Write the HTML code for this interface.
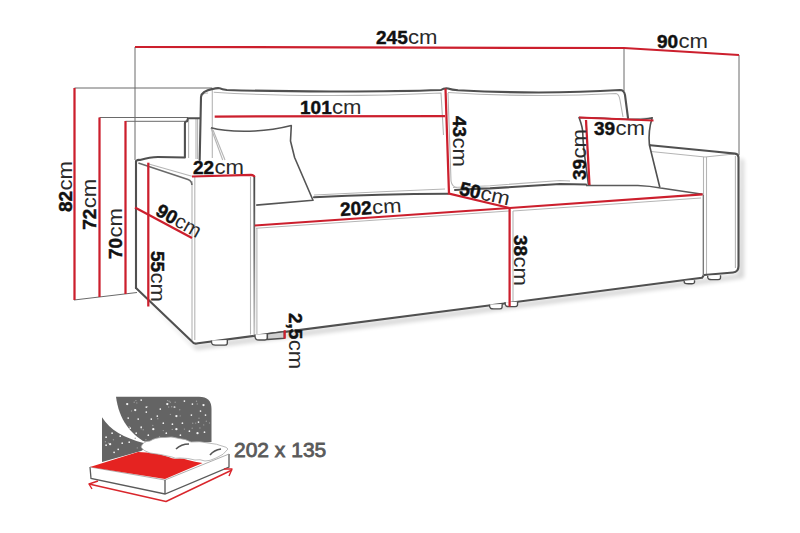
<!DOCTYPE html>
<html><head><meta charset="utf-8">
<style>
html,body{margin:0;padding:0;background:#fff;}
body{width:800px;height:533px;overflow:hidden;position:relative;}
svg{position:absolute;left:0;top:0;}
text{font-family:"Liberation Sans",sans-serif;fill:#111;}
.b{font-weight:bold;font-size:19px;stroke:#111;stroke-width:0.45px;}
.c{font-size:20px;fill:#2a2a2a;}
.r{stroke:#cc1f2d;stroke-width:2.25;fill:none;stroke-linecap:butt;}
.g{stroke:#6a6a6a;stroke-width:1;fill:none;}
.o{stroke:#505050;stroke-width:2.1;fill:none;stroke-linejoin:round;stroke-linecap:round;}
.l{stroke:#b5b5b5;stroke-width:1.1;fill:none;}
</style></head>
<body>
<svg width="800" height="533" viewBox="0 0 800 533">
<defs>
<linearGradient id="fd" gradientUnits="userSpaceOnUse" x1="0" y1="175" x2="0" y2="335"><stop offset="0" stop-color="#444"/><stop offset="0.5" stop-color="#777"/><stop offset="1" stop-color="#c8c8c8"/></linearGradient>
<filter id="sh" x="-20%" y="-50%" width="140%" height="200%"><feGaussianBlur stdDeviation="2.2"/></filter>
</defs>
<!-- shadows -->
<g filter="url(#sh)" fill="#000" opacity="0.16">
<path d="M136,289 L194,345 L702,279 L738,274 L740,158 L744,160 L744,278 L702,284 L196,350 Z"/>
</g>
<rect x="0" y="0" width="0" height="0"/>
<!-- white sofa body to cover shadow interior -->
<path d="M136,160 V288 L194,343.6 L702,277.8 L733,272.5 Q739,272.5 739,266 V158 L651,146 L628,118 L624,90 L444,88 L213,88 L201,93 L200,118 L136,118 Z" fill="#fff"/>

<!-- extension lines -->
<g class="g">
<path d="M135,47 V160"/>
<path d="M74.5,88 H212"/>
<path d="M99.5,117.5 H188"/>
<path d="M125.5,121.3 H185"/>
<path d="M624,48 V91"/>
<path d="M739,55 V155"/>
<path d="M74,300 L137,292.5"/>
</g>

<!-- sofa light inner lines -->
<g class="l">
<path d="M192,181 V340"/>
<path d="M194.8,177 V340"/>
<path d="M250.5,177 V334.5"/>
<path d="M256.9,228 V334"/>
<path d="M188.6,120 V158"/>
<path d="M196,118 V159"/>
<path d="M197.6,118 V159"/>
<path d="M212.3,88.5 V158"/>
<path d="M202.5,94.5 Q204,93 208,93"/>
<path d="M213.7,92.2 C280,96.5 370,96.5 441,93 L443.5,135"/>
<path d="M448,92.5 C520,97 580,95.5 616,93.5 Q619,94 620,100 L623,117"/>
<path d="M448,93 L451,181 Q452,187 457,187.5"/>
<path d="M211,128 L222.7,160"/>
<path d="M213,130 L225,160"/>
<path d="M148.8,164 L191.9,176.3"/>
<path d="M314,195 Q380,191.6 445,189"/>
<path d="M256,228.3 L509,211"/>
<path d="M513,211 L701,198"/>
<path d="M513,211 V302"/>
<path d="M453,187.5 L490,185.7 L560,180.5 L570,181"/>
<path d="M651,151.5 L705,157 L734,154"/>
<path d="M703.5,157 V276"/>
<path d="M706.5,157 V275"/>
<path d="M735.4,156 V268"/>
<path d="M628,119 L650,118"/>
</g>

<!-- sofa dark outlines -->
<g class="o">
<path d="M136,288 V161 Q138,159.5 140,160 Q150,157 158,157 Q172,157 184.9,157.5 V123.5 Q185,121.3 187,121.3 L188,118.3 H200"/>
<path d="M136,288 L192,341.5 Q194,344.5 198,343.2 L702,277.8 L704,275 L733,272.5 Q738.5,272 738.5,266 V157.5 Q738.5,154 735,153.6 L714.3,151.5 L650.3,145.3"/>
<path d="M199.7,160 L201,97 Q201.5,91 212.8,88.9 Q216,88 219.4,88.2 Q222,89.6 226.9,90 C280,91.6 380,92.2 441,90 Q444,88 448,88.5 Q452,89.8 458,90.3 C520,93.5 580,92.5 620,90 Q624,90 625,95 L628,118"/>
<path d="M314,197.2 Q380,194 448,193.7"/>
<path d="M455,190 Q470,189 490,188.4 L560,184 Q575,184 586,184.5"/>
</g>
<g stroke="#505050" stroke-width="1.6" fill="none" stroke-linejoin="round">
<path stroke="#555" d="M211,127.8 C222,131 240,131.5 255,131 C270,130.5 282,128 291.3,125.6 L290.5,141 L294.6,157.5 L313,200.2 L256.2,205.1"/>
<path d="M659.8,187.2 L649.4,145 Q648,131 652.2,117.8 Q645,120 630,119.5 C610,118.5 590,117.5 579,117.5 C581,123 583,128 582.8,134 C583,150 587,170 588.5,186"/>
<path d="M649.5,145 L651,146"/>
</g>

<path d="M254.3,177 V335.3" stroke="url(#fd)" stroke-width="1.8" fill="none"/>
<path d="M138.4,163 L188,179.5 Q191.9,181 191.9,185" stroke="#6a6a6a" stroke-width="1.6" fill="none"/>
<path d="M586,185.5 L637.8,185.5 Q650,186 660.6,188 L702.6,194.3" stroke="#5a5a5a" stroke-width="1.5" fill="none"/>
<path d="M703.3,195 V276" stroke="#777" stroke-width="1.3" fill="none"/>
<!-- feet -->
<g stroke="#4d4d4d" stroke-width="1.4" fill="#fff" stroke-linejoin="round">
<path d="M211.5,340.5 C211.0,345.1 213.5,345.1 215.5,345.1 L224.8,345.1 C227.6,345.1 227.5,343.6 227.3,340.0"/>
<path d="M255.0,334.5 C254.5,340.0 257.0,340.0 259.0,340.0 L264.9,340.0 C267.7,340.0 267.6,338.5 267.4,334.0"/>
<path d="M489.6,304.6 C489.1,308.9 491.6,308.9 493.6,308.9 L499.6,308.9 C502.4,308.9 502.3,307.4 502.1,304.1"/>
<path d="M505.2,302.2 C504.7,306.6 507.2,306.6 509.2,306.6 L515.0,306.6 C517.8,306.6 517.7,305.1 517.5,301.7"/>
<path d="M684.2,280.8 C683.7,283.8 686.2,283.8 688.2,283.8 L692.0,283.8 C694.8,283.8 694.7,282.3 694.5,280.3"/>
<path d="M707.7,275.8 C707.2,279.6 709.7,279.6 711.7,279.6 L718.0,279.6 C720.8,279.6 720.7,278.1 720.5,275.3"/>
<path d="M267.4,333.8 L284.3,331.6 V338.3 L267.4,339.5 Z" fill="#d0d0d0"/>
</g>

<!-- red dimension lines -->
<g class="r">
<path d="M135,47 L624,48 L739,55"/>
<path d="M74.5,88 V300"/>
<path d="M99.5,117.5 V297"/>
<path d="M125.5,121 V294"/>
<path d="M148.3,162.7 V306.5"/>
<path d="M214.7,116.5 L445,116"/>
<path d="M445.5,88.5 L449,193.5 L509.6,208"/>
<path d="M192,176.5 L251,174.8 Q254,175 254.5,177"/>
<path d="M135,207.5 L192,238"/>
<path d="M254.8,225.5 L509.6,208 L702.6,194.3"/>
<path d="M509.6,208 V306.6"/>
<path d="M579,117.5 L653.5,120.5"/>
<path d="M586,120 L589.5,185"/>
<path d="M284.7,330.2 V338.7"/>
</g>

<!-- labels -->
<text x="376" y="44.1"><tspan class="b">245</tspan><tspan class="c" dx="0.3" textLength="29.5" lengthAdjust="spacingAndGlyphs">cm</tspan></text>
<text x="657" y="47.5"><tspan class="b">90</tspan><tspan class="c" dx="0.3" textLength="29.5" lengthAdjust="spacingAndGlyphs">cm</tspan></text>
<text x="300" y="114"><tspan class="b">101</tspan><tspan class="c" dx="0.3" textLength="29.5" lengthAdjust="spacingAndGlyphs">cm</tspan></text>
<text x="193" y="173.8"><tspan class="b">22</tspan><tspan class="c" dx="0.3" textLength="29.5" lengthAdjust="spacingAndGlyphs">cm</tspan></text>
<text x="594" y="135"><tspan class="b">39</tspan><tspan class="c" dx="0.3" textLength="29.5" lengthAdjust="spacingAndGlyphs">cm</tspan></text>
<text transform="translate(72.2,212) rotate(-90)"><tspan class="b">82</tspan><tspan class="c" dx="0.3" textLength="29.5" lengthAdjust="spacingAndGlyphs">cm</tspan></text>
<text transform="translate(96.2,229.8) rotate(-90)"><tspan class="b">72</tspan><tspan class="c" dx="0.3" textLength="29.5" lengthAdjust="spacingAndGlyphs">cm</tspan></text>
<text transform="translate(122.2,259) rotate(-90)"><tspan class="b">70</tspan><tspan class="c" dx="0.3" textLength="29.5" lengthAdjust="spacingAndGlyphs">cm</tspan></text>
<text transform="translate(586,180) rotate(-90)"><tspan class="b">39</tspan><tspan class="c" dx="0.3" textLength="29.5" lengthAdjust="spacingAndGlyphs">cm</tspan></text>
<text transform="translate(151,251) rotate(90)"><tspan class="b">55</tspan><tspan class="c" dx="0.3" textLength="29.5" lengthAdjust="spacingAndGlyphs">cm</tspan></text>
<text transform="translate(452.8,116) rotate(90)"><tspan class="b">43</tspan><tspan class="c" dx="0.3" textLength="29.5" lengthAdjust="spacingAndGlyphs">cm</tspan></text>
<text transform="translate(514,235) rotate(90)"><tspan class="b">38</tspan><tspan class="c" dx="0.3" textLength="29.5" lengthAdjust="spacingAndGlyphs">cm</tspan></text>
<text transform="translate(288.5,313) rotate(90)"><tspan class="b">2,5</tspan><tspan class="c" dx="0.3" textLength="29.5" lengthAdjust="spacingAndGlyphs">cm</tspan></text>
<text transform="translate(340.5,216) rotate(-3.5)"><tspan class="b">202</tspan><tspan class="c" dx="0.3" textLength="29.5" lengthAdjust="spacingAndGlyphs">cm</tspan></text>
<text transform="translate(154.5,214.5) rotate(29.5)"><tspan class="b">90</tspan><tspan class="c" dx="0.3" textLength="27" lengthAdjust="spacingAndGlyphs">cm</tspan></text>
<text transform="translate(458.5,194.5) rotate(12.5)"><tspan class="b">50</tspan><tspan class="c" dx="0.3" textLength="29.5" lengthAdjust="spacingAndGlyphs">cm</tspan></text>

<!-- bed icon -->
<g>
<path d="M116,396.7 H199 Q211.5,396.7 211.5,409 V442 L175,445 L144.5,441.6 C131,434 119,420 116,396.7 Z" fill="#646464"/>
<path d="M102,417.3 C110,430 124,438 143.5,443 L150,446 L141,451 L102,462 Z" fill="#646464"/>
<g fill="#f4f4f4"><circle cx="127.2" cy="404.1" r="1.15"/><circle cx="141.2" cy="400.1" r="0.85"/><circle cx="146.3" cy="407.1" r="0.85"/><circle cx="135.2" cy="410.1" r="1.15"/><circle cx="167.3" cy="404.1" r="1.15"/><circle cx="184.4" cy="401.1" r="0.85"/><circle cx="192.4" cy="404.1" r="0.85"/><circle cx="203.5" cy="405.1" r="1.15"/><circle cx="146.3" cy="412.1" r="0.85"/><circle cx="157.3" cy="416.1" r="0.85"/><circle cx="176.4" cy="416.1" r="1.15"/><circle cx="191.4" cy="415.1" r="0.85"/><circle cx="205.5" cy="415.1" r="0.85"/><circle cx="128.2" cy="418.1" r="0.85"/><circle cx="138.2" cy="419.1" r="0.85"/><circle cx="151.3" cy="419.1" r="0.85"/><circle cx="163.3" cy="423.2" r="0.85"/><circle cx="172.4" cy="424.2" r="0.85"/><circle cx="182.4" cy="423.2" r="0.85"/><circle cx="198.5" cy="422.1" r="0.85"/><circle cx="130.2" cy="428.2" r="0.85"/><circle cx="141.2" cy="427.2" r="0.85"/><circle cx="153.3" cy="429.2" r="1.15"/><circle cx="176.4" cy="429.2" r="1.15"/><circle cx="189.4" cy="431.2" r="0.85"/><circle cx="197.5" cy="433.2" r="1.15"/><circle cx="204.5" cy="432.2" r="0.85"/><circle cx="106.1" cy="437.2" r="0.85"/><circle cx="112.1" cy="433.2" r="0.85"/><circle cx="110.1" cy="444.2" r="1.15"/><circle cx="122.2" cy="443.2" r="0.85"/><circle cx="129.2" cy="442.2" r="0.85"/><circle cx="118.2" cy="449.3" r="0.85"/><circle cx="160.3" cy="409.1" r="0.85"/><circle cx="174.4" cy="407.1" r="0.85"/><circle cx="200.5" cy="411.1" r="0.85"/><circle cx="180.4" cy="435.2" r="0.85"/><circle cx="166.3" cy="433.2" r="0.85"/><circle cx="148.3" cy="435.2" r="0.85"/><circle cx="136.2" cy="433.2" r="0.85"/><circle cx="120.2" cy="436.2" r="0.85"/><circle cx="106.1" cy="445.2" r="0.85"/><circle cx="114.1" cy="452.3" r="0.85"/></g>
<g fill="#9a9a9a"><circle cx="129.2" cy="426.8" r="0.7"/><circle cx="143.2" cy="429.8" r="0.7"/><circle cx="170.3" cy="402.3" r="0.7"/><circle cx="105.4" cy="441.7" r="0.7"/><circle cx="131.5" cy="411.0" r="0.7"/><circle cx="209.5" cy="423.0" r="0.7"/><circle cx="192.7" cy="423.3" r="0.7"/><circle cx="171.7" cy="406.7" r="0.7"/><circle cx="159.5" cy="436.8" r="0.7"/><circle cx="175.2" cy="402.3" r="0.7"/><circle cx="184.4" cy="429.1" r="0.7"/><circle cx="135.9" cy="400.6" r="0.7"/><circle cx="195.7" cy="423.1" r="0.7"/><circle cx="145.9" cy="439.8" r="0.7"/><circle cx="197.2" cy="404.0" r="0.7"/><circle cx="206.3" cy="421.2" r="0.7"/><circle cx="170.4" cy="414.4" r="0.7"/><circle cx="157.8" cy="418.7" r="0.7"/><circle cx="141.2" cy="428.8" r="0.7"/><circle cx="175.2" cy="407.3" r="0.7"/><circle cx="199.9" cy="428.0" r="0.7"/><circle cx="179.7" cy="409.8" r="0.7"/><circle cx="192.2" cy="428.3" r="0.7"/><circle cx="134.2" cy="402.2" r="0.7"/><circle cx="113.4" cy="439.8" r="0.7"/><circle cx="147.5" cy="406.7" r="0.7"/><circle cx="135.2" cy="438.2" r="0.7"/><circle cx="196.5" cy="401.3" r="0.7"/><circle cx="169.1" cy="401.3" r="0.7"/><circle cx="180.2" cy="415.9" r="0.7"/><circle cx="136.8" cy="402.9" r="0.7"/><circle cx="167.6" cy="400.6" r="0.7"/><circle cx="168.7" cy="407.0" r="0.7"/><circle cx="108.5" cy="443.3" r="0.7"/><circle cx="137.3" cy="447.9" r="0.7"/><circle cx="199.0" cy="418.3" r="0.7"/><circle cx="152.8" cy="425.5" r="0.7"/><circle cx="172.3" cy="429.4" r="0.7"/><circle cx="163.3" cy="430.6" r="0.7"/><circle cx="203.7" cy="424.9" r="0.7"/></g>
<path d="M90,467 L138,452 L229,454 V467 L165,494 L91,478.5 Z" fill="#fff"/>
<path d="M90,467 L91,478.5 L165,494 L229,467 V454" fill="none" stroke="#5a5a5a" stroke-width="1.3"/>
<path d="M90,467 L165,480 L229,454" fill="none" stroke="#999" stroke-width="0.8"/>
<path d="M165,480 V494" stroke="#555" stroke-width="1.3"/>
<path d="M90,467 L138,452 Q147,452.5 152,453 Q160,454 168.75,457 Q172,458.5 175,458.75 Q182,458 188,460 Q195,462 202.5,463 L165,479 Z" fill="#e52321"/>
<path d="M141,447 Q143,441 150,441 Q156,437 165,437.5 Q172,436 179,438.5 Q186,439 191,442 Q200,441 208,443 Q218,444 222,446 Q227,447 228,449 Q224,455 216,458 Q210,461 205,461 Q200,459 195,460 Q188,458 180,458 Q175,459 172,457 Q160,454 150,453 Q143,451 141,447 Z" fill="#fff" stroke="#aaa" stroke-width="0.8"/>
<path d="M176,449 Q181,444 189,444" stroke="#555" stroke-width="1.6" fill="none"/>
<path d="M210,455 Q214,450 221,449" stroke="#555" stroke-width="1.6" fill="none"/>
<g stroke="#d9262c" stroke-width="1.4" fill="none" stroke-linejoin="round">
<path d="M89,484 L166,501.5 L232,470"/>
<path d="M98,481 L89,484 L92,489"/>
<path d="M224,469 L232,469 L229,476"/>
</g>
</g>
<text x="234" y="457" style="font-size:21px;fill:#5a5a5a;stroke:#5a5a5a;stroke-width:0.8px">202 x 135</text>
</svg>
</body></html>
